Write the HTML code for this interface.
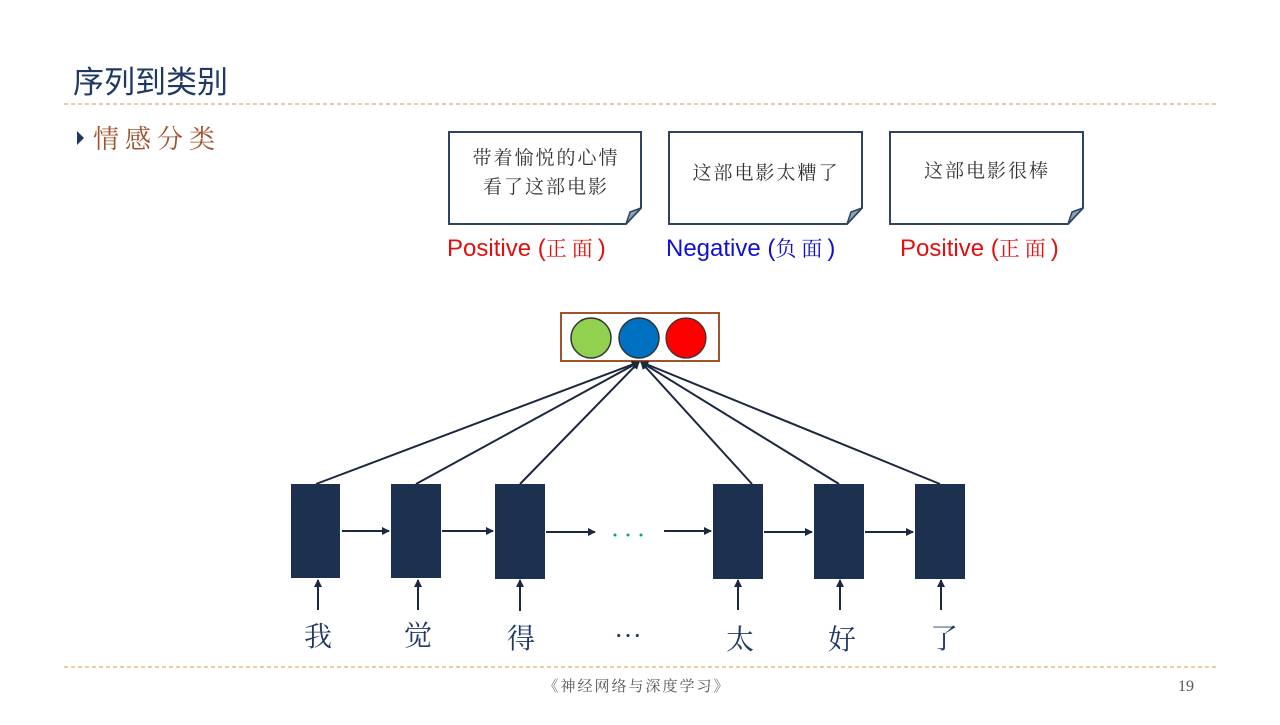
<!DOCTYPE html>
<html><head><meta charset="utf-8"><style>
body{margin:0;width:1280px;height:720px;background:#fff;overflow:hidden;font-family:"Liberation Sans","Noto Sans CJK SC",sans-serif}
</style></head><body>
<svg width="1280" height="720" xmlns="http://www.w3.org/2000/svg">
<defs><marker id="a" markerWidth="8" markerHeight="8" refX="7" refY="4" orient="auto" markerUnits="userSpaceOnUse"><path d="M0,0 L8,4 L0,8 z" fill="#1a2840"/></marker></defs>
<text x="73" y="93" font-size="31" fill="#1F3864" font-family="Noto Sans CJK SC,sans-serif">序列到类别</text>
<line x1="64" y1="104" x2="1216" y2="104" stroke="#D9964A" stroke-width="1" stroke-dasharray="4,3"/>
<path d="M77,131 L84,138 L77,145 z" fill="#1F3864"/>
<text x="93" y="148" font-size="26" fill="#A0522D" font-family="Noto Serif CJK SC,serif" letter-spacing="6">情感分类</text>
<g stroke="#2E4460" stroke-width="2" fill="#fff">
<path d="M449,132 H641 V208 L626,224 H449 Z"/><path d="M669,132 H862 V208 L847,224 H669 Z"/><path d="M890,132 H1083 V208 L1068,224 H890 Z"/></g>
<g fill="#8FA2B8" stroke="#2E4460" stroke-width="1.5"><path d="M641,208 L626,224 L630,212 Z"/><path d="M862,208 L847,224 L851,212 Z"/><path d="M1083,208 L1068,224 L1072,212 Z"/></g>
<g font-family="Noto Serif CJK SC,serif" font-size="19" fill="#333" text-anchor="middle" letter-spacing="2">
<text x="546" y="164">带着愉悦的心情</text><text x="546" y="193">看了这部电影</text>
<text x="766" y="179">这部电影太糟了</text><text x="987" y="177">这部电影很棒</text></g>
<g font-size="24">
<text x="447" y="256" fill="#E01010">Positive (<tspan font-family="Noto Serif CJK SC,serif" font-size="21" letter-spacing="5">正面</tspan>)</text>
<text x="666" y="256" fill="#1010D0">Negative (<tspan font-family="Noto Serif CJK SC,serif" font-size="21" letter-spacing="5">负面</tspan>)</text>
<text x="900" y="256" fill="#E01010">Positive (<tspan font-family="Noto Serif CJK SC,serif" font-size="21" letter-spacing="5">正面</tspan>)</text></g>
<rect x="561" y="313" width="158" height="48" fill="#fff" stroke="#A0522D" stroke-width="2"/>
<ellipse cx="591" cy="338" rx="20" ry="20" fill="#92D050" stroke="#333" stroke-width="1.5"/>
<ellipse cx="639" cy="338" rx="20" ry="20" fill="#0070C0" stroke="#333" stroke-width="1.5"/>
<ellipse cx="686" cy="338" rx="20" ry="20" fill="#FF0000" stroke="#333" stroke-width="1.2"/>
<g stroke="#1a2840" stroke-width="2" marker-end="url(#a)">
<line x1="316" y1="484" x2="639" y2="362"/><line x1="416" y1="484" x2="639" y2="362"/><line x1="520" y1="484" x2="639" y2="362"/>
<line x1="752" y1="484" x2="641" y2="362"/><line x1="839" y1="484" x2="641" y2="362"/><line x1="940" y1="484" x2="641" y2="362"/>
<line x1="342" y1="531" x2="389" y2="531"/><line x1="442" y1="531" x2="493" y2="531"/><line x1="546" y1="532" x2="595" y2="532"/>
<line x1="664" y1="531" x2="711" y2="531"/><line x1="764" y1="532" x2="812" y2="532"/><line x1="865" y1="532" x2="913" y2="532"/>
<line x1="318" y1="610" x2="318" y2="580"/><line x1="418" y1="610" x2="418" y2="580"/><line x1="520" y1="611" x2="520" y2="580"/>
<line x1="738" y1="610" x2="738" y2="580"/><line x1="840" y1="610" x2="840" y2="580"/><line x1="941" y1="610" x2="941" y2="580"/></g>
<g fill="#1C314F">
<rect x="291" y="484" width="49" height="94"/><rect x="391" y="484" width="50" height="94"/><rect x="495" y="484" width="50" height="95"/>
<rect x="713" y="484" width="50" height="95"/><rect x="814" y="484" width="50" height="95"/><rect x="915" y="484" width="50" height="95"/></g>
<g fill="#00B050"><circle cx="615" cy="535" r="1.5"/><circle cx="628" cy="535" r="1.5"/><circle cx="641" cy="535" r="1.5"/></g>
<g font-family="Noto Serif CJK SC,serif" font-size="28" fill="#1F3864" text-anchor="middle">
<text x="318" y="646">我</text><text x="418" y="645">觉</text><text x="521" y="648">得</text><text x="628" y="646">…</text>
<text x="740" y="649">太</text><text x="842" y="649">好</text><text x="944" y="648">了</text></g>
<line x1="64" y1="667" x2="1216" y2="667" stroke="#D9964A" stroke-width="1" stroke-dasharray="4,3"/>
<text x="637" y="691" font-size="15" fill="#555" text-anchor="middle" font-family="Noto Serif CJK SC,serif" letter-spacing="2">《神经网络与深度学习》</text>
<text x="1186" y="691" font-size="16" fill="#555" text-anchor="middle" font-family="Liberation Serif,serif">19</text>
</svg>
</body></html>
